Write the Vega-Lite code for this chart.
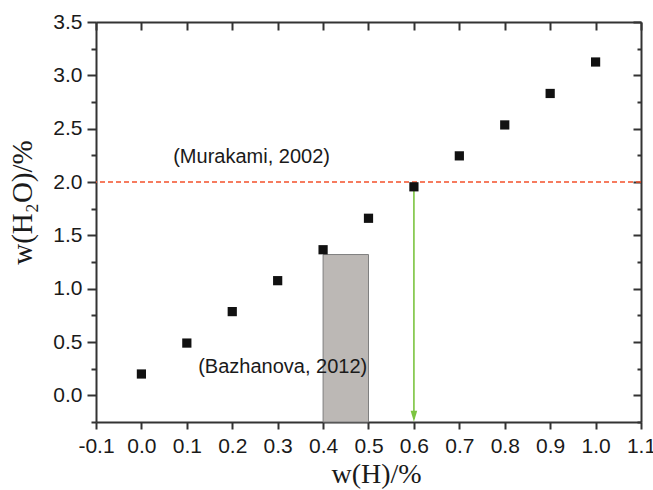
{
  "$schema": "https://vega.github.io/schema/vega-lite/v6.json",
  "autosize": "none",
  "width": 545,
  "height": 400,
  "padding": {"left": 96, "top": 22, "right": 12, "bottom": 68},
  "background": "white",
  "config": {
    "view": {"stroke": null},
    "axis": {
      "domainColor": "#333333",
      "domainWidth": 2,
      "tickColor": "#333333",
      "tickWidth": 2,
      "grid": false,
      "labelFont": "Liberation Sans",
      "labelFontSize": 21,
      "labelColor": "#1a1a1a",
      "titleFont": "Liberation Serif",
      "titleFontWeight": "normal",
      "titleColor": "#1a1a1a"
    }
  },
  "datasets": {
    "pts": [
      {"h": 0.0, "w": 0.20},
      {"h": 0.1, "w": 0.49},
      {"h": 0.2, "w": 0.785},
      {"h": 0.3, "w": 1.075},
      {"h": 0.4, "w": 1.365},
      {"h": 0.5, "w": 1.66},
      {"h": 0.6, "w": 1.955},
      {"h": 0.7, "w": 2.245},
      {"h": 0.8, "w": 2.535},
      {"h": 0.9, "w": 2.83},
      {"h": 1.0, "w": 3.125}
    ],
    "range": [{"h": 0.4, "h2": 0.5, "w": -0.25, "w2": 1.32}],
    "limit": [{"w": 2.0}],
    "arrow": [{"h": 0.6, "w": 1.96, "w2": -0.22, "tip": -0.197}],
    "notes": [
      {"h": 0.07, "w": 2.235, "label": "(Murakami, 2002)"},
      {"h": 0.125, "w": 0.27, "label": "(Bazhanova, 2012)"}
    ]
  },
  "layer": [
    {
      "data": {"name": "range"},
      "mark": {"type": "rect", "fill": "#bcb8b5", "stroke": "#7f7f7f", "strokeWidth": 1},
      "encoding": {
        "x": {"field": "h", "type": "quantitative", "axis": null},
        "x2": {"field": "h2"},
        "y": {"field": "w", "type": "quantitative", "axis": null},
        "y2": {"field": "w2"}
      }
    },
    {
      "data": {"name": "limit"},
      "mark": {"type": "rule", "color": "#f4502a", "strokeWidth": 1.3, "strokeDash": [5, 3]},
      "encoding": {"y": {"field": "w", "type": "quantitative", "axis": null}}
    },
    {
      "data": {"name": "arrow"},
      "mark": {"type": "rule", "color": "#7cc440", "strokeWidth": 1.6},
      "encoding": {
        "x": {"field": "h", "type": "quantitative", "axis": null},
        "y": {"field": "w", "type": "quantitative", "axis": null},
        "y2": {"field": "w2"}
      }
    },
    {
      "data": {"name": "arrow"},
      "mark": {"type": "point", "shape": "M-0.6,-1L0.6,-1L0,1Z", "filled": true, "color": "#7cc440", "size": 121, "opacity": 1},
      "encoding": {
        "x": {"field": "h", "type": "quantitative", "axis": null},
        "y": {"field": "tip", "type": "quantitative", "axis": null}
      }
    },
    {
      "data": {"name": "pts"},
      "mark": {"type": "square", "color": "#111111", "size": 85, "opacity": 1},
      "encoding": {
        "x": {
          "field": "h", "type": "quantitative",
          "scale": {"domain": [-0.1, 1.1], "nice": false, "zero": false},
          "axis": {
            "orient": "bottom",
            "values": [-0.1, 0, 0.1, 0.2, 0.3, 0.4, 0.5, 0.6, 0.7, 0.8, 0.9, 1.0, 1.1],
            "labelExpr": "datum.value < -0.0001 ? '-' + format(-datum.value, '.1f') : format(datum.value, '.1f')",
            "tickSize": 7,
            "labelPadding": 6,
            "labelFlush": false,
            "labelOverlap": false,
            "title": "w(H)/%",
            "titleFontSize": 28,
            "titleX": 280,
            "titleY": 60,
            "titleAlign": "center",
            "titleBaseline": "alphabetic"
          }
        },
        "y": {
          "field": "w", "type": "quantitative",
          "scale": {"domain": [-0.25, 3.5], "nice": false, "zero": false},
          "axis": {
            "orient": "left",
            "values": [-0.25, 0, 0.25, 0.5, 0.75, 1, 1.25, 1.5, 1.75, 2, 2.25, 2.5, 2.75, 3, 3.25, 3.5],
            "labelExpr": "abs(datum.value*2 - round(datum.value*2)) < 0.001 ? format(datum.value, '.1f') : ''",
            "tickSize": {"condition": {"test": "abs(datum.value*2 - round(datum.value*2)) < 0.001", "value": 9}, "value": 5},
            "labelPadding": 5,
            "labelFlush": false,
            "labelOverlap": false,
            "title": "w(H₂O)/%",
            "titleFontSize": 29,
            "titleAngle": -90,
            "titleX": -74,
            "titleY": 180,
            "titleAlign": "center",
            "titleBaseline": "middle"
          }
        }
      }
    },
    {
      "data": {"name": "notes"},
      "mark": {"type": "text", "align": "left", "baseline": "middle", "font": "Liberation Sans", "fontSize": 20, "color": "#1a1a1a"},
      "encoding": {
        "x": {
          "field": "h", "type": "quantitative",
          "axis": {
            "orient": "top",
            "values": [-0.1, 0, 0.1, 0.2, 0.3, 0.4, 0.5, 0.6, 0.7, 0.8, 0.9, 1.0, 1.1],
            "labels": false,
            "tickSize": -8,
            "title": null
          }
        },
        "y": {
          "field": "w", "type": "quantitative",
          "axis": {
            "orient": "right",
            "values": [-0.25, 0, 0.25, 0.5, 0.75, 1, 1.25, 1.5, 1.75, 2, 2.25, 2.5, 2.75, 3, 3.25, 3.5],
            "labels": false,
            "tickSize": {"condition": {"test": "abs(datum.value*2 - round(datum.value*2)) < 0.001", "value": -8}, "value": -4},
            "title": null
          }
        },
        "text": {"field": "label"}
      }
    }
  ],
  "resolve": {"axis": {"x": "independent", "y": "independent"}}
}
